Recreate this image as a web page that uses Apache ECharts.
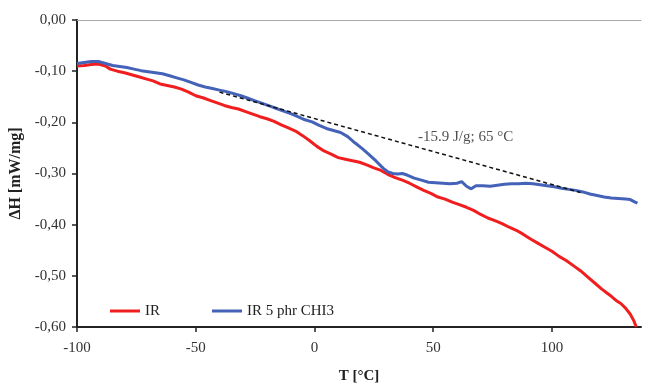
<!DOCTYPE html>
<html><head><meta charset="utf-8">
<script src="https://cdn.jsdelivr.net/npm/echarts@6/dist/echarts.min.js"></script>
<style>html,body{margin:0;padding:0;background:#fff}#c{width:646px;height:384px}</style>
</head><body><div id="c"></div>
<script>
const xTicks = [-100, -50, 0, 50, 100];
const yTicks = [0, -0.1, -0.2, -0.3, -0.4, -0.5, -0.6];
const irT = [-100,-97,-94,-91,-88,-86,-83,-80,-77,-74,-71,-68,-65,-62,-59,-56,-53,-50,-47,-44,-41,-38,-35,-32,-29,-26,-23,-20,-17,-14,-11,-8,-5,-2,1,4,7,10,13,16,19,22,25,28,31,34,37,40,43,46,49,52,55,58,61,64,67,70,73,76,79,82,85,88,91,94,97,100,103,106,109,112,115,118,121,123,125,127,129,131,133,134.5,135.5];
const irH = [-0.090,-0.089,-0.087,-0.086,-0.090,-0.096,-0.100,-0.103,-0.107,-0.111,-0.115,-0.119,-0.125,-0.128,-0.131,-0.135,-0.141,-0.148,-0.152,-0.157,-0.162,-0.167,-0.171,-0.174,-0.179,-0.184,-0.189,-0.193,-0.198,-0.205,-0.211,-0.217,-0.226,-0.236,-0.247,-0.256,-0.262,-0.269,-0.272,-0.275,-0.278,-0.283,-0.289,-0.294,-0.302,-0.308,-0.313,-0.319,-0.326,-0.333,-0.339,-0.346,-0.350,-0.356,-0.361,-0.366,-0.372,-0.380,-0.387,-0.392,-0.398,-0.405,-0.411,-0.419,-0.428,-0.436,-0.444,-0.452,-0.462,-0.470,-0.480,-0.490,-0.502,-0.514,-0.526,-0.533,-0.540,-0.548,-0.554,-0.563,-0.575,-0.588,-0.600];
const chiT = [-100,-97,-94,-91,-88,-85,-82,-79,-76,-73,-70,-67,-64,-61,-58,-55,-52,-49,-46,-43,-40,-37,-34,-31,-28,-25,-22,-19,-16,-13,-10,-7,-4,-1,2,5,8,11,14,17,20,23,26,29,31,33,35,37,39,42,45,48,51,54,57,60,62,64,66,68,71,74,77,80,83,86,89,92,95,98,101,104,107,110,113,116,119,122,125,128,131,133,135,136];
const chiH = [-0.085,-0.083,-0.081,-0.081,-0.085,-0.089,-0.091,-0.093,-0.096,-0.099,-0.101,-0.103,-0.105,-0.109,-0.113,-0.117,-0.122,-0.127,-0.131,-0.134,-0.137,-0.140,-0.144,-0.148,-0.153,-0.158,-0.163,-0.168,-0.173,-0.178,-0.183,-0.189,-0.195,-0.199,-0.206,-0.212,-0.216,-0.220,-0.228,-0.240,-0.251,-0.263,-0.276,-0.290,-0.297,-0.300,-0.301,-0.300,-0.303,-0.309,-0.313,-0.317,-0.318,-0.319,-0.320,-0.319,-0.316,-0.325,-0.330,-0.324,-0.324,-0.325,-0.323,-0.321,-0.320,-0.320,-0.319,-0.320,-0.322,-0.324,-0.326,-0.329,-0.331,-0.333,-0.336,-0.340,-0.343,-0.346,-0.348,-0.349,-0.350,-0.351,-0.356,-0.358];
const tangentT = [-40, 112];
const tangentH = [-0.141, -0.337];
const annotationT = 43.6;
const annotationH = -0.229;
const annotationText = '-15.9 J/g; 65 °C';
const seriesNames = ['IR', 'IR 5 phr CHI3'];

const font = 'Liberation Serif';
const zip = (a, b) => a.map((v, i) => [v, b[i]]);
const chart = echarts.init(document.getElementById('c'));
chart.setOption({
  animation: false,
  backgroundColor: '#fff',
  textStyle: { fontFamily: font },
  grid: { left: 77, right: 5, top: 20, bottom: 57, containLabel: false, outerBoundsMode: 'none' },
  legend: {
    left: 105, top: 298, itemWidth: 30, itemHeight: 3, itemGap: 52, icon: 'rect',
    textStyle: { fontFamily: font, fontSize: 15, color: '#222', lineHeight: 16 },
    data: seriesNames
  },
  xAxis: [{
    type: 'value', min: -100, max: 137.5, interval: 50,
    name: 'T [°C]', nameLocation: 'middle', nameGap: 42,
    nameTextStyle: { fontFamily: font, fontSize: 15, fontWeight: 'bold', color: '#222' },
    axisLine: { onZero: false, lineStyle: { color: '#222', width: 2 } },
    axisTick: { show: true, length: 5, lineStyle: { color: '#222', width: 1.5 } },
    axisLabel: { fontFamily: font, fontSize: 15, color: '#333', margin: 14, showMaxLabel: false,
      formatter: v => (Math.abs(v % 50) < 1e-9 ? String(v) : '') },
    splitLine: { show: false }
  }, {
    type: 'value', position: 'top', min: -100, max: 137.5,
    axisLine: { show: true, lineStyle: { color: '#aaa', width: 1 } },
    axisTick: { show: false }, axisLabel: { show: false }, splitLine: { show: false }
  }],
  yAxis: {
    type: 'value', min: -0.6, max: 0, interval: 0.1,
    name: 'ΔH [mW/mg]', nameLocation: 'middle', nameGap: 50, nameRotate: 90,
    nameTextStyle: { fontFamily: font, fontSize: 16, fontWeight: 'bold', color: '#222' },
    axisLine: { show: true, onZero: false, lineStyle: { color: '#222', width: 2 } },
    axisTick: { show: true, length: 5, lineStyle: { color: '#222', width: 1.5 } },
    axisLabel: { fontFamily: font, fontSize: 15, color: '#333', margin: 11,
      formatter: v => (Math.abs(v) < 1e-9 ? '0,00' : v.toFixed(2).replace('.', ',')) },
    splitLine: { show: false }
  },
  series: [
    { name: seriesNames[0], type: 'line', data: zip(irT, irH), showSymbol: false, symbol: 'none',
      lineStyle: { color: '#f01e1e', width: 3 }, itemStyle: { color: '#f01e1e' } },
    { name: seriesNames[1], type: 'line', data: zip(chiT, chiH), showSymbol: false, symbol: 'none',
      lineStyle: { color: '#4462b8', width: 3 }, itemStyle: { color: '#4462b8' } },
    { name: 'tangent', type: 'line', data: zip(tangentT, tangentH), showSymbol: false, symbol: 'none',
      lineStyle: { color: '#111', width: 1.5, type: [4, 3] } },
    { name: 'note', type: 'scatter', data: [[annotationT, annotationH]], symbolSize: 0,
      label: { show: true, position: 'right', distance: 0, formatter: annotationText,
        fontFamily: font, fontSize: 15, color: '#222' } }
  ]
});
</script></body></html>
